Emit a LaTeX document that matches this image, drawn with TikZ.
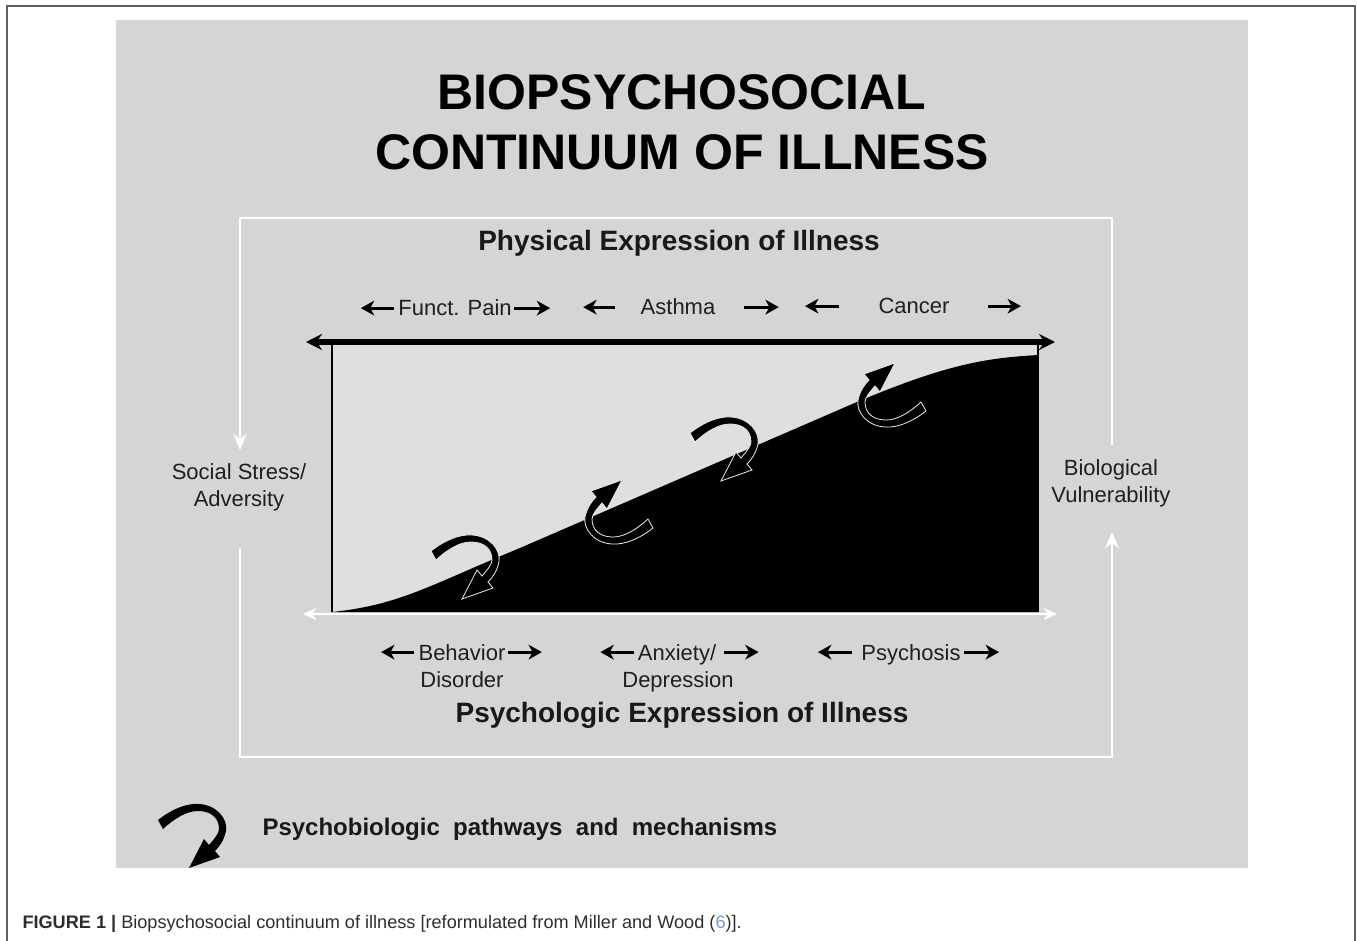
\documentclass[tikz,border=0pt]{standalone}
\usepackage{fontspec}
\setmainfont{Liberation Sans}
\usetikzlibrary{arrows.meta}

\definecolor{panelgray}{RGB}{213,213,213}
\definecolor{boxgray}{RGB}{223,223,223}
\definecolor{edgegray}{RGB}{95,95,95}
\definecolor{captext}{RGB}{45,45,45}
\definecolor{refblue}{RGB}{105,160,215}

\tikzset{every picture/.style={line width=0.75pt}}
\tikzset{
	lbl/.style={inner sep=0.75pt, font=\fontsize{16.5}{20}\selectfont, text=black!88},
	arrowlbl/.style={lbl, text height=11.8pt, text depth=0pt},
	heading/.style={inner sep=0.75pt, font=\fontsize{21}{25}\selectfont\bfseries, text=black!90},
	lblarrow/.style={line width=2.3pt, -{Stealth[length=10pt,width=11pt,inset=3pt]}},
	wideframe/.style={white, line width=2.2pt},
	hookfill/.style={fill=black, draw=white!92!black, line width=0.6pt},
	pics/hookarrow/.style={code={
		\path[hookfill,yscale=-1,#1] (-39,-14) .. controls (-25,-25) and (-10,-31) .. (2,-30)
			.. controls (20,-29) and (31,-15) .. (29,-3)
			.. controls (27,6) and (23,12) .. (18,17) -- (23,23) -- (-8,34) -- (7,5) -- (12,11)
			.. controls (18,4) and (22,-1) .. (22,-5)
			.. controls (22,-17) and (13,-23) .. (1,-23)
			.. controls (-10,-23) and (-22,-16) .. (-34,-5) -- cycle;
	}},
	pics/hookarrow/.default={},
}

\begin{document}
\begin{tikzpicture}[x=0.75pt,y=0.75pt,yscale=-1,xscale=1]
	\useasboundingbox (0,0) rectangle (1357,941);
	
	% Page border and panel
	\draw[edgegray, line width=1.2pt] (7,941) -- (7,6) -- (1355,6) -- (1355,941);
	\fill[panelgray] (116,20) rectangle (1248,868);
	
	% Text Node
	\node[anchor=base, inner sep=0.75pt, font=\fontsize{37.5}{45}\selectfont\bfseries] (title1) at (682,110) {BIOPSYCHOSOCIAL};
	% Text Node
	\node[anchor=base, inner sep=0.75pt, font=\fontsize{37.5}{45}\selectfont\bfseries] (title2) at (682,170) {CONTINUUM OF ILLNESS};
	
	% Frame corners and gaps
	\coordinate (ftl) at (240,218);
	\coordinate (fbr) at (1112,757);
	\coordinate (fltip) at (240,450);
	\coordinate (flgap) at (240,548);
	\coordinate (frgap) at (1112,445);
	\coordinate (frtip) at (1112,532);
	% Connection
	\draw[wideframe, -{Stealth[length=12pt,width=10pt]}] (frgap) |- (ftl) -- (fltip);
	% Connection
	\draw[wideframe, -{Stealth[length=12pt,width=10pt]}] (flgap) |- (fbr) -- (frtip);
	
	% Text Node
	\node[heading, anchor=base] (physical) at (679,251) {Physical Expression of Illness};
	% Text Node
	\node[heading, anchor=base] (psychologic) at (682,722) {Psychologic Expression of Illness};
	% Text Node
	\node[lbl, align=center] (social) at (239,487) {Social Stress/\\Adversity};
	% Text Node
	\node[lbl, align=center] (bio) at (1111,483) {Biological\\Vulnerability};
	
	% Continuum box
	\fill[boxgray] (332,342) rectangle (1038,612);
	\fill[black] (332,612) .. controls (400,605) and (430,585) .. (520,548) -- (850,405)
		.. controls (950,362) and (990,358) .. (1038,355) -- (1038,612) -- cycle;
	\draw[line width=1.5pt] (332,342) -- (332,612);
	\draw[line width=1.2pt] (1038,342) -- (1038,612);
	
	% Psychobiologic pathways
	\pic at (470,565) {hookarrow};
	\pic[rotate=180] at (614,514) {hookarrow};
	\pic at (729,447) {hookarrow};
	\pic[rotate=180] at (887,397) {hookarrow};
	
	% Axis bars
	\coordinate (barL) at (306,342);
	\coordinate (barR) at (1055,342);
	\coordinate (baseL) at (303,614);
	\coordinate (baseR) at (1057,614);
	% Connection
	\draw[line width=3.8pt, {Stealth[length=12pt,width=12pt,inset=4pt]}-{Stealth[length=12pt,width=12pt,inset=4pt]}] (barL) -- (barR);
	% Connection
	\draw[white, line width=2pt, {Stealth[length=10pt,width=9pt,inset=3pt]}-{Stealth[length=10pt,width=9pt,inset=3pt]}] (baseL) -- (baseR);
	
	% Text Node
	\node[arrowlbl, anchor=base] (pain) at (455,316) {Funct. Pain};
	\draw[lblarrow] (pain.west) ++(-3,0) -- ++(-33,0);
	\draw[lblarrow] (pain.east) ++(1,0) -- ++(36,0);
	% Text Node
	\node[arrowlbl, anchor=base] (asthma) at (678,315) {Asthma};
	\draw[lblarrow] (asthma.west) ++(-24,0) -- ++(-32,0);
	\draw[lblarrow] (asthma.east) ++(27,0) -- ++(35,0);
	% Text Node
	\node[arrowlbl, anchor=base] (cancer) at (914,314) {Cancer};
	\draw[lblarrow] (cancer.west) ++(-38,0) -- ++(-34,0);
	\draw[lblarrow] (cancer.east) ++(37,0) -- ++(33,0);
	
	% Text Node
	\node[arrowlbl, anchor=base] (behavior) at (462,660) {Behavior};
	\draw[lblarrow] (behavior.west) ++(-3,0) -- ++(-33,0);
	\draw[lblarrow] (behavior.east) ++(1,0) -- ++(34,0);
	\node[lbl, anchor=base] (disorder) at (462,687) {Disorder};
	% Text Node
	\node[arrowlbl, anchor=base] (anxiety) at (677,660) {Anxiety/};
	\draw[lblarrow] (anxiety.west) ++(-2,0) -- ++(-34,0);
	\draw[lblarrow] (anxiety.east) ++(6,0) -- ++(35,0);
	\node[lbl, anchor=base] (depression) at (678,687) {Depression};
	% Text Node
	\node[arrowlbl, anchor=base] (psychosis) at (911,660) {Psychosis};
	\draw[lblarrow] (psychosis.west) ++(-8,0) -- ++(-34,0);
	\draw[lblarrow] (psychosis.east) ++(2,0) -- ++(35,0);
	
	% Legend
	\pic at (197,834) {hookarrow={draw=none}};
	\node[anchor=base west, inner sep=0.75pt, font=\fontsize{18}{22}\selectfont\bfseries, text=black!90] (legend) at (261,835) {Psychobiologic\ \ pathways\ \ and\ \ mechanisms};
	
	% Caption
	\node[anchor=base west, inner sep=0pt, font=\fontsize{13.6}{16}\selectfont, text=captext] (caption) at (22,928) {\textbf{FIGURE 1 |} Biopsychosocial continuum of illness [reformulated from Miller and Wood (\textcolor{refblue}{6})].};
	
\end{tikzpicture}
\end{document}
